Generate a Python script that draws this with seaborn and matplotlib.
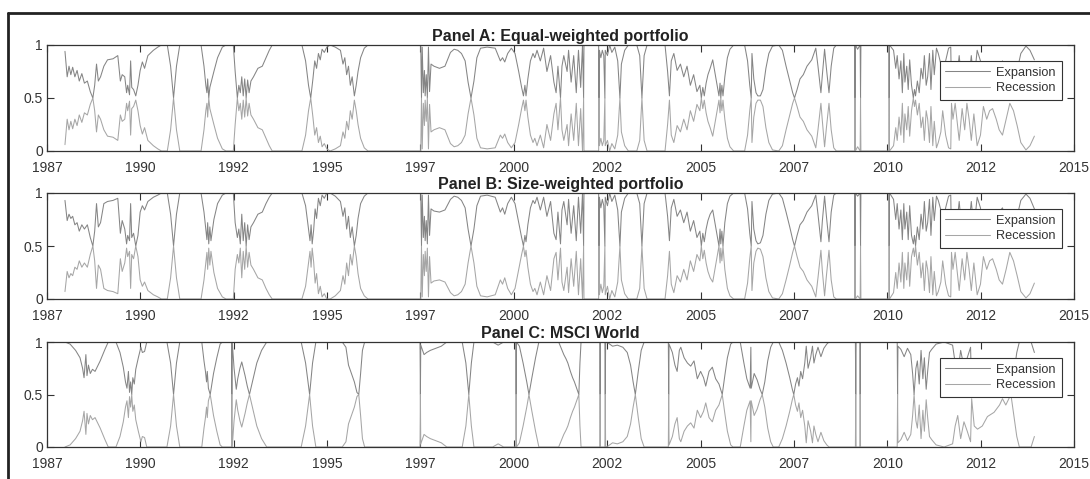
import numpy as np
import pandas as pd
import matplotlib
matplotlib.use("Agg")
import matplotlib.pyplot as plt
from matplotlib.lines import Line2D
import seaborn as sns

# ---------------- data ----------------
panel_titles = ["Panel A: Equal-weighted portfolio",
                "Panel B: Size-weighted portfolio",
                "Panel C: MSCI World"]
regimes = ["Expansion", "Recession"]
x_tick_labels = ["1987", "1990", "1992", "1995", "1997", "2000",
                 "2002", "2005", "2007", "2010", "2012", "2015"]
y_tick_labels = ["0", "0.5", "1"]

# (decimal year, expansion-regime probability) knots
panel_a = [
(1987.49,0.94),(1987.55,0.70),(1987.60,0.80),(1987.65,0.72),(1987.70,0.79),(1987.76,0.70),(1987.82,0.76),(1987.88,0.66),(1987.95,0.73),(1988.02,0.64),(1988.10,0.66),(1988.18,0.56),(1988.25,0.50),(1988.30,0.62),(1988.35,0.82),(1988.40,0.66),(1988.46,0.70),(1988.55,0.80),(1988.65,0.86),(1988.80,0.87),(1988.93,0.90),(1989.00,0.66),(1989.05,0.72),(1989.12,0.70),(1989.17,0.55),(1989.20,0.62),(1989.25,0.53),(1989.28,0.85),(1989.31,0.60),(1989.36,0.58),(1989.42,0.52),(1989.48,0.62),(1989.54,0.76),(1989.60,0.84),(1989.66,0.78),(1989.75,0.90),(1989.90,0.95),(1990.02,0.98),(1990.12,1.00),(1990.28,1.00),(1990.37,0.80),(1990.45,0.50),(1990.53,0.80),(1990.62,1.00),
(1991.20,1.00),(1991.28,0.80),(1991.33,0.62),(1991.36,0.55),(1991.38,0.68),(1991.41,0.50),(1991.44,0.60),(1991.55,0.75),(1991.65,0.88),(1991.78,0.98),(1991.88,1.00),
(1992.08,1.00),(1992.13,0.75),(1992.19,0.50),(1992.23,0.62),(1992.27,0.55),(1992.31,0.70),(1992.35,0.52),(1992.39,0.68),(1992.43,0.50),(1992.47,0.67),(1992.51,0.55),(1992.56,0.66),(1992.63,0.70),(1992.75,0.78),(1992.87,0.80),(1992.97,0.88),(1993.06,0.95),(1993.14,1.00),
(1993.95,1.00),(1994.05,0.85),(1994.13,0.62),(1994.19,0.50),(1994.25,0.68),(1994.30,0.85),(1994.35,0.78),(1994.40,0.92),(1994.45,0.86),(1994.50,0.96),(1994.56,0.93),(1994.63,0.98),(1994.72,1.00),(1994.86,0.98),(1995.00,0.95),(1995.07,0.82),(1995.12,0.88),(1995.17,0.72),(1995.22,0.80),(1995.27,0.62),(1995.32,0.70),(1995.38,0.52),(1995.43,0.62),(1995.48,0.75),(1995.55,0.88),(1995.65,0.97),(1995.75,1.00),
(1997.19,1.00),(1997.21,0.50),(1997.23,0.98),(1997.26,0.55),(1997.29,0.76),(1997.31,0.52),(1997.34,0.72),(1997.37,0.50),(1997.40,0.98),(1997.43,0.56),(1997.47,0.82),(1997.55,0.80),(1997.70,0.78),(1997.85,0.80),(1998.00,0.93),(1998.10,0.96),(1998.20,0.95),(1998.30,0.92),(1998.40,0.85),(1998.48,0.65),(1998.56,0.50),(1998.64,0.66),(1998.72,0.88),(1998.82,0.97),(1999.00,0.98),(1999.22,0.97),(1999.30,0.90),(1999.36,0.85),(1999.42,0.88),(1999.48,0.84),(1999.56,0.92),(1999.66,0.97),(1999.76,0.92),(1999.86,0.75),(1999.94,0.60),(1999.99,0.52),(2000.03,0.62),(2000.06,0.52),(2000.11,0.68),(2000.18,0.85),(2000.25,0.92),(2000.30,0.88),(2000.36,0.95),(2000.45,0.85),(2000.54,0.97),(2000.63,0.75),(2000.73,0.90),(2000.82,0.65),(2000.88,0.55),(2000.93,0.80),(2001.00,0.50),(2001.04,0.80),(2001.09,0.90),(2001.18,0.75),(2001.22,0.95),(2001.29,0.65),(2001.36,0.90),(2001.43,0.55),(2001.49,0.95),(2001.55,0.60),(2001.60,1.00),(2001.63,0.50),(2001.64,1.00),
(2002.04,1.00),(2002.05,0.50),(2002.06,0.95),(2002.10,0.88),(2002.14,0.95),(2002.18,0.90),(2002.21,0.50),(2002.22,0.95),(2002.28,0.90),(2002.34,1.00),(2002.40,0.93),(2002.48,0.98),(2002.56,0.85),(2002.62,0.50),(2002.66,0.82),(2002.75,0.95),(2002.85,1.00),(2003.08,1.00),(2003.16,0.90),(2003.22,0.50),(2003.28,0.90),(2003.36,1.00),
(2003.85,1.00),(2003.92,0.75),(2003.97,0.52),(2004.02,0.85),(2004.09,0.92),(2004.18,0.76),(2004.27,0.82),(2004.36,0.70),(2004.45,0.80),(2004.54,0.62),(2004.63,0.72),(2004.72,0.56),(2004.80,0.62),(2004.84,0.50),(2004.88,0.60),(2004.92,0.52),(2004.97,0.64),(2005.02,0.72),(2005.08,0.78),(2005.15,0.86),(2005.22,0.72),(2005.28,0.60),(2005.32,0.52),(2005.35,0.64),(2005.37,0.50),(2005.40,0.62),(2005.43,0.52),(2005.48,0.70),(2005.55,0.88),(2005.62,0.96),(2005.72,1.00),
(2006.02,1.00),(2006.10,0.85),(2006.16,0.62),(2006.20,0.50),(2006.22,0.92),(2006.27,0.68),(2006.33,0.55),(2006.38,0.52),(2006.45,0.52),(2006.52,0.58),(2006.60,0.78),(2006.68,0.92),(2006.78,0.99),(2006.95,1.00),(2007.05,0.95),(2007.15,0.80),(2007.25,0.66),(2007.33,0.55),(2007.38,0.50),(2007.45,0.58),(2007.53,0.68),(2007.62,0.72),(2007.72,0.80),(2007.85,0.86),(2007.96,0.97),(2008.02,0.80),(2008.10,0.55),(2008.14,0.72),(2008.20,0.96),(2008.25,0.78),(2008.32,0.55),(2008.38,0.80),(2008.45,0.97),(2008.52,1.00),
(2009.02,1.00),(2009.03,0.50),(2009.04,1.00),(2009.10,0.96),(2009.17,1.00),(2009.18,0.50),(2009.19,1.00),
(2009.95,1.00),(2009.96,0.50),(2009.97,1.00),(2010.08,0.95),(2010.14,0.78),(2010.18,0.90),(2010.23,0.68),(2010.28,0.85),(2010.32,0.55),(2010.36,0.92),(2010.39,0.65),(2010.44,0.80),(2010.48,0.58),(2010.52,0.86),(2010.57,0.62),(2010.62,0.50),(2010.65,0.58),(2010.68,0.52),(2010.73,0.66),(2010.78,0.55),(2010.83,0.78),(2010.88,0.68),(2010.92,0.90),(2010.97,0.62),(2011.01,0.70),(2011.06,0.92),(2011.10,0.58),(2011.15,0.95),(2011.19,0.72),(2011.25,0.97),(2011.30,0.92),(2011.37,0.82),(2011.42,0.62),(2011.50,0.85),(2011.58,0.97),(2011.64,0.98),(2011.66,0.55),(2011.70,0.70),(2011.76,0.55),(2011.87,0.90),(2011.95,0.60),(2012.02,0.80),(2012.08,0.55),(2012.14,0.70),(2012.20,0.90),(2012.27,0.65),(2012.36,0.95),(2012.45,0.85),(2012.53,0.58),(2012.62,0.70),(2012.70,0.62),(2012.78,0.60),(2012.88,0.70),(2012.96,0.80),(2013.05,0.85),(2013.15,0.70),(2013.25,0.55),(2013.35,0.62),(2013.45,0.76),(2013.55,0.92),(2013.69,0.99),(2013.80,0.95),(2013.92,0.86),
]

panel_b = [
(1987.49,0.93),(1987.55,0.74),(1987.60,0.80),(1987.65,0.76),(1987.70,0.78),(1987.76,0.70),(1987.82,0.72),(1987.88,0.64),(1987.95,0.70),(1988.02,0.66),(1988.10,0.70),(1988.18,0.58),(1988.25,0.50),(1988.30,0.64),(1988.35,0.90),(1988.40,0.68),(1988.46,0.72),(1988.55,0.90),(1988.65,0.92),(1988.80,0.93),(1988.93,0.95),(1989.00,0.62),(1989.05,0.74),(1989.12,0.66),(1989.17,0.52),(1989.20,0.60),(1989.25,0.55),(1989.28,0.90),(1989.31,0.58),(1989.36,0.62),(1989.42,0.50),(1989.48,0.60),(1989.54,0.82),(1989.60,0.88),(1989.66,0.84),(1989.75,0.92),(1989.90,0.96),(1990.02,0.98),(1990.12,1.00),(1990.28,1.00),(1990.37,0.80),(1990.45,0.50),(1990.53,0.80),(1990.62,1.00),
(1991.20,1.00),(1991.28,0.82),(1991.33,0.66),(1991.36,0.56),(1991.38,0.72),(1991.41,0.52),(1991.44,0.68),(1991.47,0.55),(1991.55,0.75),(1991.65,0.90),(1991.78,0.98),(1991.88,1.00),
(1992.08,1.00),(1992.13,0.72),(1992.19,0.58),(1992.23,0.66),(1992.27,0.52),(1992.31,0.80),(1992.35,0.55),(1992.39,0.72),(1992.43,0.50),(1992.47,0.70),(1992.51,0.56),(1992.56,0.68),(1992.63,0.72),(1992.75,0.80),(1992.87,0.82),(1992.97,0.90),(1993.06,0.96),(1993.14,1.00),
(1993.95,1.00),(1994.05,0.88),(1994.13,0.66),(1994.17,0.55),(1994.20,0.70),(1994.23,0.52),(1994.27,0.65),(1994.31,0.85),(1994.35,0.76),(1994.40,0.95),(1994.45,0.88),(1994.50,0.98),(1994.56,0.95),(1994.63,1.00),(1994.72,1.00),(1994.86,0.97),(1995.00,0.92),(1995.07,0.78),(1995.12,0.86),(1995.17,0.66),(1995.22,0.78),(1995.27,0.58),(1995.32,0.68),(1995.38,0.50),(1995.43,0.60),(1995.48,0.76),(1995.55,0.90),(1995.65,0.97),(1995.75,1.00),
(1997.19,1.00),(1997.21,0.50),(1997.23,0.98),(1997.26,0.58),(1997.29,0.78),(1997.31,0.55),(1997.34,0.74),(1997.37,0.52),(1997.40,0.98),(1997.43,0.60),(1997.47,0.85),(1997.55,0.83),(1997.70,0.82),(1997.85,0.84),(1998.00,0.94),(1998.10,0.97),(1998.20,0.96),(1998.30,0.93),(1998.40,0.86),(1998.48,0.66),(1998.56,0.50),(1998.64,0.66),(1998.72,0.88),(1998.82,0.97),(1999.00,0.98),(1999.22,0.96),(1999.30,0.88),(1999.36,0.82),(1999.42,0.86),(1999.48,0.80),(1999.56,0.90),(1999.66,0.96),(1999.76,0.90),(1999.86,0.72),(1999.94,0.58),(1999.99,0.50),(2000.03,0.60),(2000.06,0.54),(2000.11,0.70),(2000.18,0.86),(2000.25,0.93),(2000.30,0.90),(2000.36,0.96),(2000.45,0.84),(2000.54,0.96),(2000.63,0.78),(2000.73,0.92),(2000.82,0.62),(2000.88,0.56),(2000.93,0.82),(2001.00,0.52),(2001.04,0.84),(2001.09,0.92),(2001.18,0.70),(2001.22,0.94),(2001.29,0.62),(2001.36,0.88),(2001.43,0.55),(2001.49,0.96),(2001.55,0.62),(2001.60,1.00),(2001.63,0.50),(2001.64,1.00),
(2002.04,1.00),(2002.05,0.50),(2002.06,0.96),(2002.10,0.86),(2002.14,0.94),(2002.18,0.88),(2002.21,0.50),(2002.22,0.96),(2002.28,0.88),(2002.34,1.00),(2002.40,0.92),(2002.48,0.98),(2002.56,0.84),(2002.62,0.50),(2002.66,0.82),(2002.75,0.95),(2002.85,1.00),(2003.08,1.00),(2003.16,0.90),(2003.22,0.50),(2003.28,0.90),(2003.36,1.00),
(2003.85,1.00),(2003.92,0.78),(2003.97,0.55),(2004.02,0.86),(2004.09,0.94),(2004.18,0.78),(2004.27,0.84),(2004.36,0.72),(2004.45,0.82),(2004.54,0.64),(2004.63,0.74),(2004.72,0.58),(2004.80,0.64),(2004.84,0.50),(2004.88,0.62),(2004.92,0.54),(2004.97,0.66),(2005.02,0.74),(2005.08,0.80),(2005.15,0.84),(2005.22,0.70),(2005.28,0.58),(2005.32,0.50),(2005.35,0.66),(2005.37,0.52),(2005.40,0.64),(2005.43,0.50),(2005.48,0.72),(2005.55,0.90),(2005.62,0.97),(2005.72,1.00),
(2006.02,1.00),(2006.10,0.85),(2006.16,0.62),(2006.20,0.50),(2006.22,0.92),(2006.27,0.66),(2006.33,0.55),(2006.38,0.52),(2006.45,0.53),(2006.52,0.60),(2006.60,0.80),(2006.68,0.93),(2006.78,0.99),(2006.95,1.00),(2007.05,0.95),(2007.15,0.82),(2007.25,0.68),(2007.33,0.56),(2007.38,0.50),(2007.45,0.60),(2007.53,0.70),(2007.62,0.74),(2007.72,0.82),(2007.85,0.88),(2007.96,0.98),(2008.02,0.80),(2008.10,0.54),(2008.14,0.74),(2008.20,0.97),(2008.25,0.78),(2008.32,0.54),(2008.38,0.82),(2008.45,0.98),(2008.52,1.00),
(2009.02,1.00),(2009.03,0.50),(2009.04,1.00),(2009.10,0.97),(2009.17,1.00),(2009.18,0.50),(2009.19,1.00),
(2009.95,1.00),(2009.96,0.50),(2009.97,1.00),(2010.08,0.94),(2010.14,0.75),(2010.18,0.90),(2010.23,0.66),(2010.28,0.84),(2010.32,0.56),(2010.36,0.90),(2010.39,0.66),(2010.44,0.82),(2010.48,0.56),(2010.52,0.88),(2010.57,0.60),(2010.62,0.52),(2010.65,0.60),(2010.68,0.50),(2010.73,0.68),(2010.78,0.56),(2010.83,0.80),(2010.88,0.66),(2010.92,0.92),(2010.97,0.64),(2011.01,0.72),(2011.06,0.94),(2011.10,0.60),(2011.15,0.96),(2011.19,0.74),(2011.25,0.97),(2011.30,0.93),(2011.37,0.84),(2011.42,0.64),(2011.50,0.86),(2011.58,0.97),(2011.64,0.98),(2011.66,0.56),(2011.70,0.72),(2011.76,0.56),(2011.87,0.92),(2011.95,0.62),(2012.02,0.82),(2012.08,0.56),(2012.14,0.72),(2012.20,0.92),(2012.27,0.66),(2012.36,0.96),(2012.45,0.86),(2012.53,0.60),(2012.62,0.72),(2012.70,0.64),(2012.78,0.62),(2012.88,0.72),(2012.96,0.82),(2013.05,0.86),(2013.15,0.72),(2013.25,0.56),(2013.35,0.64),(2013.45,0.78),(2013.55,0.93),(2013.69,0.99),(2013.80,0.95),(2013.92,0.85),
]

panel_c = [
(1987.49,1.00),(1987.63,0.98),(1987.78,0.92),(1987.90,0.85),(1987.97,0.75),(1988.01,0.66),(1988.06,0.88),(1988.09,0.68),(1988.13,0.78),(1988.18,0.70),(1988.24,0.74),(1988.31,0.72),(1988.45,0.82),(1988.58,0.93),(1988.67,1.00),
(1988.88,1.00),(1988.99,0.90),(1989.08,0.76),(1989.14,0.62),(1989.18,0.56),(1989.22,0.72),(1989.25,0.52),(1989.28,0.62),(1989.31,0.50),(1989.34,0.66),(1989.38,0.60),(1989.42,0.74),(1989.49,0.85),(1989.56,0.95),(1989.60,0.90),(1989.66,0.91),(1989.72,1.00),
(1990.27,1.00),(1990.37,0.80),(1990.45,0.50),(1990.53,0.80),(1990.62,1.00),
(1991.22,1.00),(1991.28,0.82),(1991.32,0.72),(1991.35,0.62),(1991.37,0.72),(1991.40,0.56),(1991.45,0.50),(1991.54,0.70),(1991.63,0.85),(1991.72,0.98),(1991.78,1.00),
(1992.03,1.00),(1992.04,0.50),(1992.05,1.00),(1992.10,0.75),(1992.16,0.55),(1992.20,0.65),(1992.26,0.75),(1992.31,0.81),(1992.40,0.68),(1992.46,0.58),(1992.52,0.50),(1992.60,0.62),(1992.72,0.80),(1992.85,0.92),(1992.99,1.00),
(1993.93,1.00),(1994.05,0.80),(1994.16,0.50),(1994.24,0.80),(1994.33,1.00),
(1995.05,1.00),(1995.15,0.95),(1995.22,0.78),(1995.30,0.70),(1995.38,0.62),(1995.45,0.52),(1995.50,0.50),(1995.55,0.70),(1995.60,0.92),(1995.66,1.00),
(1997.17,1.00),(1997.18,0.50),(1997.19,0.97),(1997.28,0.88),(1997.35,0.90),(1997.45,0.92),(1997.60,0.94),(1997.75,0.96),(1997.90,1.00),
(1998.32,1.00),(1998.42,0.80),(1998.50,0.50),(1998.57,0.80),(1998.64,1.00),
(1999.15,1.00),(1999.30,0.97),(1999.45,1.00),
(1999.78,1.00),(1999.79,0.50),(1999.80,1.00),(1999.88,0.96),(1999.98,0.80),(2000.08,0.62),(2000.14,0.50),(2000.22,0.66),(2000.32,0.85),(2000.41,1.00),
(2000.95,1.00),(2001.02,0.94),(2001.09,0.88),(2001.15,0.84),(2001.20,0.80),(2001.27,0.72),(2001.33,0.66),(2001.38,0.62),(2001.45,0.55),(2001.50,0.50),(2001.53,0.80),(2001.56,1.00),
(2002.07,1.00),(2002.08,0.50),(2002.09,1.00),(2002.21,1.00),(2002.22,0.50),(2002.23,1.00),
(2002.30,0.99),(2002.42,0.96),(2002.55,0.97),(2002.70,0.95),(2002.82,0.90),(2002.91,0.78),(2002.98,0.62),(2003.04,0.50),(2003.12,0.72),(2003.20,0.92),(2003.28,1.00),
(2003.94,1.00),(2003.95,0.50),(2003.96,0.98),(2004.05,0.90),(2004.12,0.78),(2004.18,0.72),(2004.24,0.92),(2004.28,0.95),(2004.37,0.85),(2004.46,0.80),(2004.55,0.77),(2004.64,0.82),(2004.73,0.65),(2004.82,0.72),(2004.90,0.66),(2004.96,0.58),
(2005.05,0.72),(2005.14,0.76),(2005.23,0.65),(2005.32,0.60),(2005.41,0.50),(2005.48,0.68),(2005.55,0.85),(2005.64,0.98),(2005.70,1.00),
(2005.90,1.00),(2006.00,0.80),(2006.08,0.65),(2006.17,0.56),(2006.19,0.95),(2006.20,0.56),(2006.28,0.70),(2006.36,0.64),(2006.44,0.55),(2006.50,0.50),(2006.57,0.62),(2006.65,0.82),(2006.73,0.95),(2006.80,1.00),
(2006.95,1.00),(2007.05,0.92),(2007.15,0.80),(2007.25,0.66),(2007.32,0.55),(2007.36,0.50),
(2007.41,0.60),(2007.46,0.66),(2007.50,0.58),(2007.55,0.72),(2007.60,0.65),(2007.66,0.80),(2007.70,0.96),(2007.75,0.75),(2007.82,0.85),(2007.87,0.96),(2007.91,0.80),(2007.96,0.88),(2008.02,0.95),(2008.10,0.86),(2008.18,0.94),(2008.26,0.98),(2008.32,1.00),
(2009.04,1.00),(2009.05,0.50),(2009.06,1.00),(2009.16,1.00),(2009.17,0.50),(2009.18,1.00),
(2010.18,1.00),(2010.19,0.50),(2010.20,0.96),(2010.28,0.93),(2010.37,0.86),(2010.46,0.94),(2010.55,0.88),(2010.60,0.70),(2010.64,0.50),(2010.69,0.75),(2010.73,0.82),(2010.78,0.60),(2010.83,0.92),(2010.88,0.65),(2010.92,0.85),(2010.97,0.55),(2011.01,0.72),(2011.06,0.90),(2011.12,0.93),(2011.24,0.98),(2011.46,1.00),(2011.69,0.97),
(2011.76,0.80),(2011.83,0.70),(2011.91,0.92),(2012.00,0.76),(2012.09,0.85),(2012.18,0.95),(2012.21,0.54),(2012.28,0.80),(2012.37,0.83),(2012.50,0.80),(2012.64,0.71),(2012.82,0.67),(2012.97,0.60),(2013.05,0.54),(2013.14,0.60),(2013.28,0.50),(2013.36,0.70),(2013.44,0.90),(2013.51,1.00),(2013.83,1.00),(2013.92,0.90),
]

# ---------------- style ----------------
sns.set_style("ticks")
plt.rcParams["font.family"] = ["Liberation Sans", "DejaVu Sans"]

W, H = 1090, 479
fig = plt.figure(figsize=(W / 100, H / 100), dpi=100)
fig.patch.set_facecolor("white")

line_colors = {"Expansion": "#858585", "Recession": "#a6a6a6"}
# axes rectangles in pixels: (top, bottom)
ax_rows = [(45, 151), (193, 299), (342, 447)]
left_px, right_px = 47, 1074

for title, knots, (top_px, bot_px) in zip(panel_titles, [panel_a, panel_b, panel_c], ax_rows):
    ax = fig.add_axes([left_px / W, 1 - bot_px / H, (right_px - left_px) / W, (bot_px - top_px) / H])
    t = np.array([k[0] for k in knots])
    p = np.array([k[1] for k in knots])
    df = pd.DataFrame({"year": np.concatenate([t, t]),
                       "prob": np.concatenate([p, 1 - p]),
                       "regime": [regimes[0]] * len(t) + [regimes[1]] * len(t)})
    sns.lineplot(data=df, x="year", y="prob", hue="regime", hue_order=regimes,
                 palette=line_colors, estimator=None, sort=False,
                 linewidth=0.75, ax=ax)
    ax.set_xlim(1987, 2015)
    ax.set_ylim(0, 1)
    ax.set_xticks(np.linspace(1987, 2015, len(x_tick_labels)))
    ax.set_xticklabels(x_tick_labels)
    ax.set_yticks([0, 0.5, 1])
    ax.set_yticklabels(y_tick_labels)
    ax.set_xlabel("")
    ax.set_ylabel("")
    ax.tick_params(direction="in", length=5, width=0.8, top=True, right=True,
                   labelsize=10, labelcolor="#333333", color="#333333")
    ax.tick_params(axis="x", pad=7)
    ax.tick_params(axis="y", pad=3)
    for s in ax.spines.values():
        s.set_color("#333333")
        s.set_linewidth(0.9)
    ax.set_title(title, fontsize=11.5, fontweight="bold", color="#222222", pad=3)
    handles, labels = ax.get_legend_handles_labels()
    leg = ax.legend(handles, labels, loc="upper right", bbox_to_anchor=(0.988, 0.85),
                    borderaxespad=0, frameon=True, fancybox=False, framealpha=1,
                    edgecolor="#333333", fontsize=9.2, handlelength=3.5,
                    handletextpad=0.5, borderpad=0.45, labelspacing=0.3)
    leg.get_frame().set_linewidth(0.8)
    for txt in leg.get_texts():
        txt.set_color("#333333")

# scanned-page frame (top and left edges)
fig.add_artist(Line2D([8 / W, 1.0], [1 - 13 / H, 1 - 13 / H], color="#222222", lw=2))
fig.add_artist(Line2D([8 / W, 8 / W], [0, 1 - 13 / H], color="#222222", lw=2))

fig.savefig("out.png", dpi=100, facecolor="white")
